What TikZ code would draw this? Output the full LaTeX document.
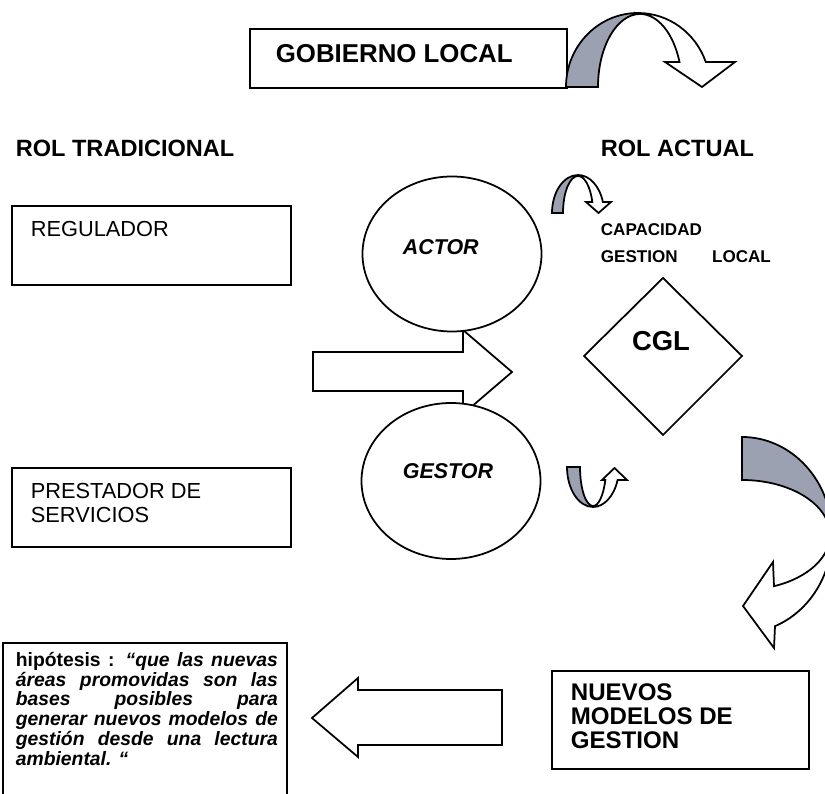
\documentclass[tikz,border=0pt]{standalone}
\usepackage{fontspec}
\setmainfont{Liberation Sans}
\usepackage{xcolor}
\usetikzlibrary{arrows.meta,positioning}
\definecolor{bandgray}{RGB}{156,161,178}

\begin{document}
\begin{tikzpicture}[x=0.2mm, y=-0.2mm, line width=1pt, line join=miter,
    frame/.style={draw, line width=1pt},
    backband/.style={draw, fill=bandgray, line width=1pt},
    frontband/.style={draw, fill=white, line width=1pt},
    lbl/.style={inner sep=0pt, anchor=base west},
    bigtitle/.style={font=\fontsize{14.7}{17}\selectfont\bfseries},
    roltitle/.style={font=\fontsize{13.4}{16}\selectfont\bfseries},
    txtplain/.style={font=\fontsize{12.4}{13.66}\selectfont},
    roletxt/.style={font=\fontsize{12.2}{14}\selectfont\bfseries\itshape},
    capatxt/.style={font=\fontsize{9.7}{15.4}\selectfont\bfseries},
    cgltxt/.style={font=\fontsize{15.6}{18}\selectfont\bfseries},
    modeltxt/.style={font=\fontsize{13.7}{13.66}\selectfont\bfseries},
    hypotxt/.style={font=\fontsize{11}{9.8}\selectfont\bfseries}]

  % Canvas in pixel-like units (y grows downward)
  \useasboundingbox (0,0) rectangle (825,794);
  \clip (0,0) rectangle (825,794);
  \fill[white] (0,0) rectangle (825,794);

  % Title box
  \draw[frame] (250,29) rectangle (567,88);
  \node[lbl, bigtitle] (gobierno) at (275,63) {GOBIERNO LOCAL};

  % Top curved arrow: grey back half, white front half with head
  \draw[backband] (566,87) arc[start angle=180, end angle=270, x radius=72, y radius=74]
    -- (640,14) arc[start angle=270, end angle=180, x radius=42, y radius=73] -- cycle;
  \draw[frontband] (638,13) arc[start angle=270, end angle=340.2, x radius=72, y radius=74]
    -- (735,62) -- (702,87) -- (665,62)
    -- (679.5,62) arc[start angle=340, end angle=270, x radius=42, y radius=73] -- cycle;

  % Column headings
  \node[lbl, roltitle] (tradicional) at (15,157) {ROL TRADICIONAL};
  \node[lbl, roltitle] (actual) at (600,157) {ROL ACTUAL};

  % Traditional roles
  \draw[frame] (12,206) rectangle (291,285);
  \node[lbl, txtplain] (regulador) at (30,237) {REGULADOR};
  \draw[frame] (12,468) rectangle (291,547);
  \node[inner sep=0pt, anchor=north west, align=left, txtplain] (prestador) at (30,482)
    {PRESTADOR DE\\SERVICIOS};

  % Transition arrow (behind the circles)
  \draw[frontband] (313,352) -- (463,352) -- (463,330) -- (512,372)
    -- (463,414) -- (463,391) -- (313,391) -- cycle;

  % Current roles
  \draw[frame, fill=white] (452,254) ellipse[x radius=89.5, y radius=77.5];
  \node[lbl, roletxt] (actor) at (402,255) {ACTOR};
  \draw[frame, fill=white] (451,481) ellipse[x radius=89.5, y radius=78];
  \node[lbl, roletxt] (gestor) at (402,479) {GESTOR};

  % Small curved arrow near ACTOR
  \draw[backband] (552,213) arc[start angle=180, end angle=270, x radius=26, y radius=38]
    -- (578,176) arc[start angle=270, end angle=180, x radius=15, y radius=37] -- cycle;
  \draw[frontband] (578,175) arc[start angle=270, end angle=343.2, x radius=26, y radius=38]
    -- (611,202) -- (598.5,213) -- (586,202)
    -- (592.3,202) arc[start angle=342.7, end angle=270, x radius=15, y radius=37] -- cycle;

  % Capacity label and CGL diamond
  \node[inner sep=0pt, anchor=north west, text width=34mm, align=left, capatxt] (capacidad)
    at (600,223) {CAPACIDAD\\GESTION\hfill LOCAL};
  \draw[frame] (663,278) -- (742,356) -- (663,435) -- (584,356) -- cycle;
  \node[inner sep=0pt, cgltxt] (cgl) at (661,341) {CGL};

  % Small U-shaped arrow near GESTOR
  \draw[backband] (567,467) arc[start angle=180, end angle=90, x radius=26, y radius=40]
    -- (593,506) arc[start angle=90, end angle=180, x radius=13, y radius=39] -- cycle;
  \draw[frontband] (593,507) arc[start angle=90, end angle=18.97, x radius=26, y radius=40]
    -- (627,480) -- (614.5,468) -- (602,480)
    -- (605.3,480) arc[start angle=19.47, end angle=90, x radius=13, y radius=39] -- cycle;

  % Large curved arrow on the right, cut by the page edge
  \draw[backband] (742,437) arc[start angle=270, end angle=360, x radius=90, y radius=98]
    -- (830,535) arc[start angle=360, end angle=270, x radius=88, y radius=55] -- cycle;
  \draw[frontband] (832,535) arc[start angle=0, end angle=68.49, x radius=90, y radius=98]
    -- (774,648) -- (743,606) -- (773,562)
    -- (774,586.2) arc[start angle=68.68, end angle=0, x radius=88, y radius=55] -- cycle;

  % New models box
  \draw[frame] (552,671) rectangle (809,769);
  \node[inner sep=0pt, anchor=north west, align=left, modeltxt] (modelos) at (570,683)
    {NUEVOS\\MODELOS DE\\GESTION};

  % Return arrow towards the hypothesis
  \draw[frontband] (502,690) -- (358,690) -- (358,678) -- (312,718)
    -- (358,757) -- (358,745) -- (502,745) -- cycle;

  % Hypothesis box (runs past the lower edge)
  \draw[frame] (3,643) rectangle (287,820);
  \node[inner sep=0pt, anchor=north west, text width=52.4mm, align=justify, hypotxt]
    (hipotesis) at (15,651)
    {hipótesis : \textit{“que las nuevas\linebreak
     áreas promovidas son las\linebreak
     bases posibles para\linebreak
     generar nuevos modelos de\linebreak
     gestión desde una lectura\linebreak
     ambiental. “}};
\end{tikzpicture}
\end{document}
